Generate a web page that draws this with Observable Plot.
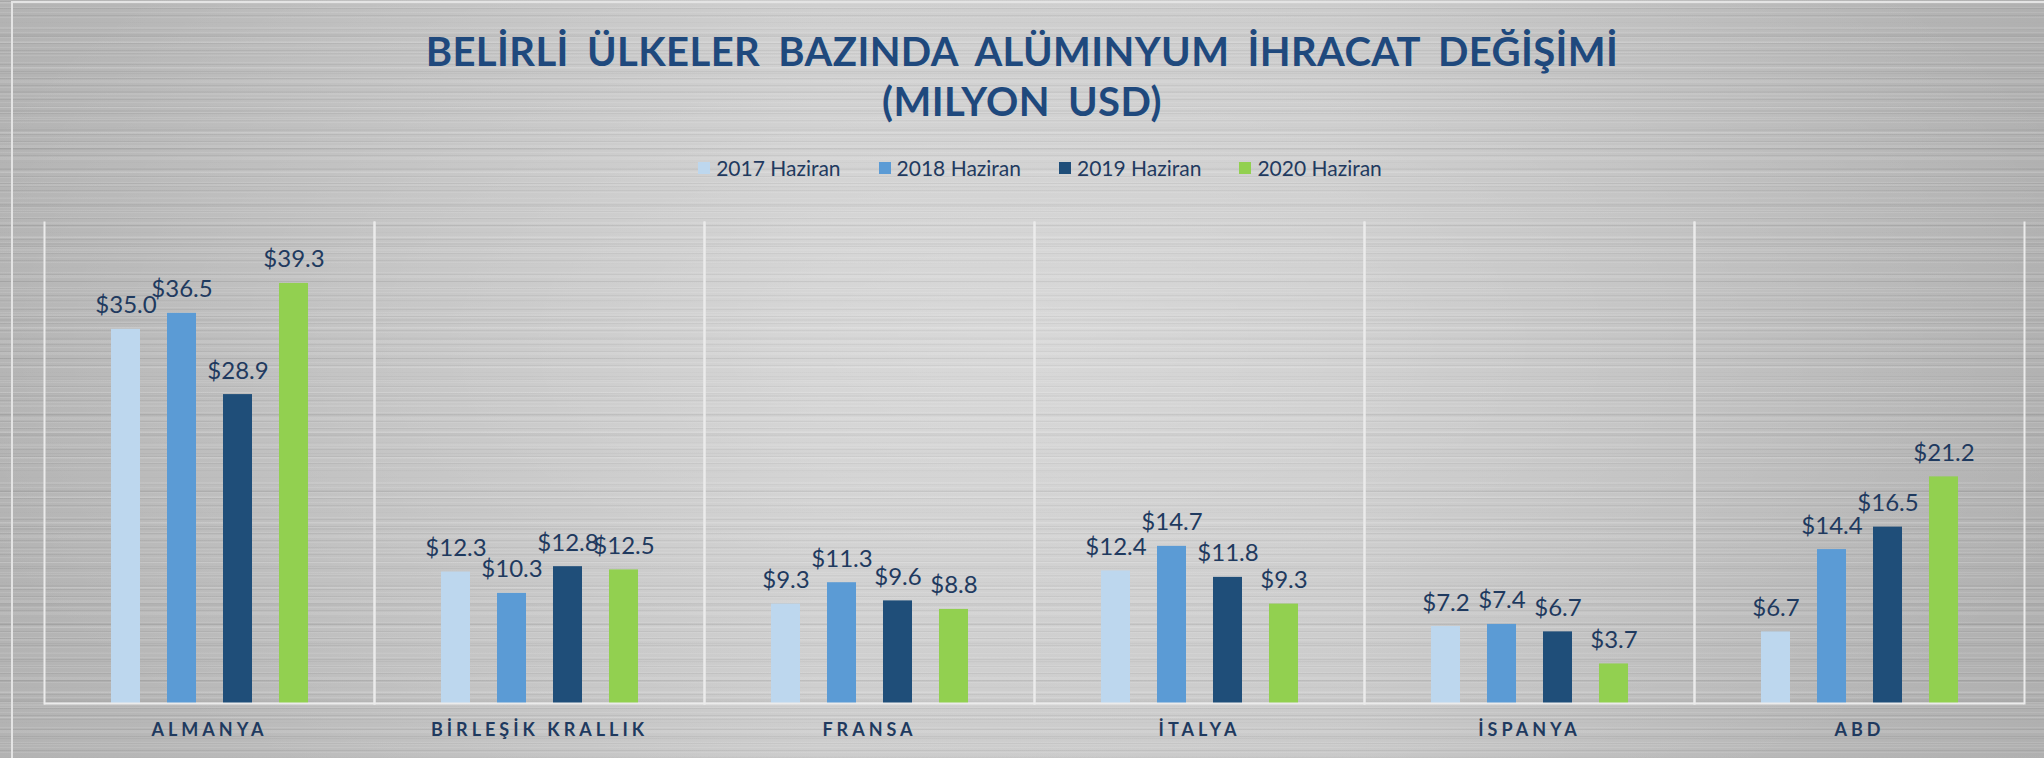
<!DOCTYPE html>
<html>
<head>
<meta charset="utf-8">
<script src="https://cdn.jsdelivr.net/npm/d3@7"></script>
<script src="https://cdn.jsdelivr.net/npm/@observablehq/plot@0.6"></script>
<style>
  html, body { margin: 0; padding: 0; }
  body {
    width: 2044px; height: 758px; overflow: hidden; position: relative;
    background-color: #bdbdbd;
    background-image:
      radial-gradient(ellipse 55% 75% at 50% 45%, rgba(255,255,255,0.30), rgba(255,255,255,0) 100%),
      repeating-linear-gradient(0deg, rgba(255,255,255,0.10) 0px, rgba(255,255,255,0.10) 1px, transparent 1px, transparent 5px),
      repeating-linear-gradient(0deg, rgba(0,0,0,0.06) 0px, rgba(0,0,0,0.06) 1px, transparent 1px, transparent 7px),
      repeating-linear-gradient(0deg, rgba(255,255,255,0.09) 0px, rgba(255,255,255,0.09) 2px, transparent 2px, transparent 13px),
      repeating-linear-gradient(0deg, rgba(0,0,0,0.04) 0px, rgba(0,0,0,0.04) 2px, transparent 2px, transparent 19px),
      linear-gradient(90deg, #b3b3b3, #c9c9c9 40%, #c6c6c6 65%, #b0b0b0);
    font-family: Lato, "Open Sans", sans-serif;
  }
  #frame {
    position: absolute; left: 11px; top: 1px; right: -4px; bottom: -4px;
    border-left: 2px solid #e4e4e4; border-top: 2px solid #e4e4e4;
  }
  #title {
    position: absolute; left: 0; top: 26px; width: 2044px; text-align: center;
    color: #1f497d; font-weight: 700; font-size: 40px; line-height: 50px;
    letter-spacing: 0.4px; word-spacing: 8px;
  }
  #legend {
    position: absolute; left: 36px; top: 155px; width: 2008px;
    display: flex; justify-content: center; gap: 38px;
    font-size: 21px; color: #1f3a5f;
  }
  #legend .item { display: flex; align-items: center; }
  #legend .sw { width: 12px; height: 12px; margin-right: 6px; }
  #chart { position: absolute; left: 0; top: 190px; }
  #chart svg { background: transparent; overflow: visible; }
  #chart [aria-label="fx-axis tick label"] text { letter-spacing: 4px; }
</style>
</head>
<body>
<div id="frame"></div>
<div id="title">BELİRLİ ÜLKELER BAZINDA ALÜMINYUM İHRACAT DEĞİŞİMİ<br>(MILYON USD)</div>
<div id="legend"></div>
<div id="chart"></div>
<script>
const countries = ["ALMANYA", "BİRLEŞİK KRALLIK", "FRANSA", "İTALYA", "İSPANYA", "ABD"];
const years = ["2017 Haziran", "2018 Haziran", "2019 Haziran", "2020 Haziran"];
const v2017 = [35.0, 12.3, 9.3, 12.4, 7.2, 6.7];
const v2018 = [36.5, 10.3, 11.3, 14.7, 7.4, 14.4];
const v2019 = [28.9, 12.8, 9.6, 11.8, 6.7, 16.5];
const v2020 = [39.3, 12.5, 8.8, 9.3, 3.7, 21.2];
const colors = ["#bdd7ee", "#5b9bd5", "#1f4e79", "#92d050"];

const series = [v2017, v2018, v2019, v2020];
const data = countries.flatMap((c, i) => years.map((y, j) => ({country: c, year: y, value: series[j][i]})));

// legend
const legend = document.getElementById("legend");
years.forEach((y, j) => {
  const it = document.createElement("div");
  it.className = "item";
  const sw = document.createElement("div");
  sw.className = "sw";
  sw.style.background = colors[j];
  const t = document.createElement("span");
  t.textContent = y;
  it.appendChild(sw); it.appendChild(t);
  legend.appendChild(it);
});

const lineColor = "#ebebeb";
const chart = Plot.plot({
  width: 2044,
  height: 568,
  marginLeft: 42,
  marginRight: 19,
  marginTop: 32,
  marginBottom: 55,
  style: {background: "transparent", fontFamily: "Lato, 'Open Sans', sans-serif"},
  fx: {domain: countries, padding: 0, label: null},
  x: {domain: years, paddingInner: 0.49, paddingOuter: 1.14, axis: null},
  y: {domain: [0, 45], axis: null},
  color: {domain: years, range: colors},
  marks: [
    Plot.frame({anchor: "left", stroke: lineColor, strokeWidth: 2}),
    Plot.frame({anchor: "right", stroke: lineColor, strokeWidth: 2}),
    Plot.barY(data, {fx: "country", x: "year", y: "value", fill: "year"}),
    Plot.ruleY([0], {stroke: lineColor, strokeWidth: 2}),
    Plot.text(data, {
      fx: "country", x: "year", y: "value",
      text: d => "$" + d.value.toFixed(1),
      lineAnchor: "bottom", dy: -16,
      fill: "#1f3a5f", fontSize: 24
    }),
    Plot.axisFx({
      anchor: "bottom", tickSize: 0, tickPadding: 20, label: null,
      fontSize: 18, fontWeight: "bold", fill: "#1f3a5f"
    })
  ]
});
document.getElementById("chart").appendChild(chart);
</script>
</body>
</html>
